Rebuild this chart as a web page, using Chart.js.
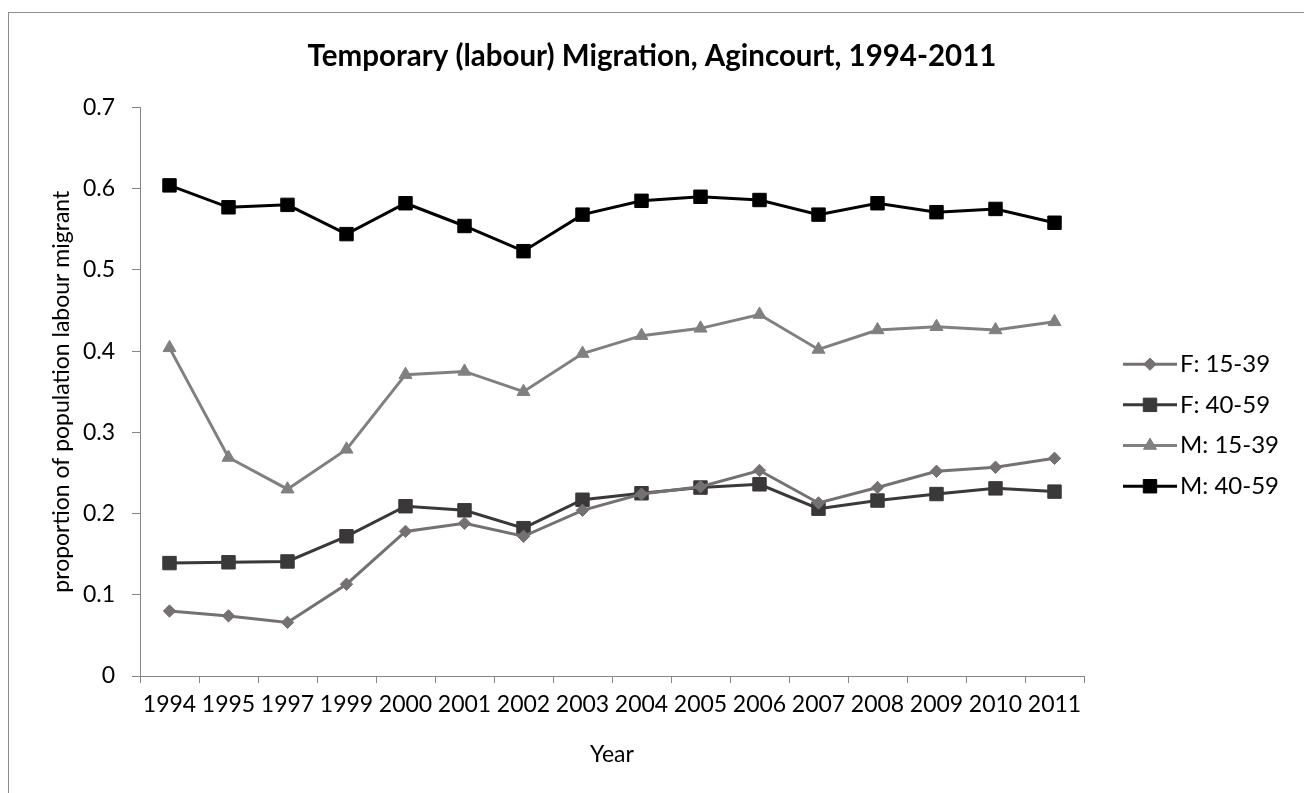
<!DOCTYPE html>
<html>
<head>
<meta charset="utf-8">
<script src="https://cdn.jsdelivr.net/npm/chart.js@4.4.1/dist/chart.umd.min.js"></script>
<style>
  html, body { margin: 0; padding: 0; background: #fff; }
  #wrap { position: relative; width: 1304px; height: 793px; overflow: hidden; }
  #frame {
    position: absolute; left: 8px; top: 12px; right: -10px; bottom: -10px;
    border-top: 1px solid #8c8c8c; border-left: 1px solid #8c8c8c;
    pointer-events: none;
  }
</style>
</head>
<body>
<div id="wrap">
  <canvas id="chart" width="1304" height="793"></canvas>
  <div id="frame"></div>
</div>
<script>
// chart data
const years = ['1994', '1995', '1997', '1999', '2000', '2001', '2002', '2003',
  '2004', '2005', '2006', '2007', '2008', '2009', '2010', '2011'];

const female15to39 = [0.080, 0.074, 0.066, 0.113, 0.178, 0.188, 0.172, 0.204,
  0.224, 0.233, 0.253, 0.213, 0.232, 0.252, 0.257, 0.268];
const female40to59 = [0.139, 0.140, 0.141, 0.172, 0.209, 0.204, 0.182, 0.217,
  0.225, 0.232, 0.236, 0.206, 0.216, 0.224, 0.231, 0.227];
const male15to39 = [0.404, 0.269, 0.230, 0.279, 0.371, 0.375, 0.350, 0.397,
  0.419, 0.428, 0.445, 0.402, 0.426, 0.430, 0.426, 0.436];
const male40to59 = [0.604, 0.577, 0.580, 0.544, 0.582, 0.554, 0.523, 0.568,
  0.585, 0.590, 0.586, 0.568, 0.582, 0.571, 0.575, 0.558];

const yTicks = { min: 0, max: 0.7, step: 0.1 };

const FONT = 'Lato, Carlito, "Open Sans", sans-serif';
const AXIS_GREY = '#868686';

function series(label, data, color, style, radius) {
  return {
    label,
    data,
    borderColor: color,
    backgroundColor: color,
    borderWidth: 3,
    pointStyle: style,
    pointRadius: radius,
    pointHoverRadius: radius,
    pointBackgroundColor: color,
    pointBorderColor: color,
    pointBorderWidth: 1,
    tension: 0
  };
}

// Excel style legend: short line with the marker in the middle
const lineLegend = {
  id: 'lineLegend',
  afterDraw(chart) {
    const { ctx, chartArea } = chart;
    const x0 = chartArea.right + 39;
    const lineLen = 54;
    const rowGap = 40.7;
    const n = chart.data.datasets.length;
    const midY = (chartArea.top + chartArea.bottom) / 2 + 33.5;
    const startY = midY - rowGap * (n - 1) / 2;
    ctx.save();
    chart.data.datasets.forEach((ds, i) => {
      const y = startY + i * rowGap;
      ctx.strokeStyle = ds.borderColor;
      ctx.lineWidth = ds.borderWidth;
      ctx.beginPath();
      ctx.moveTo(x0, y);
      ctx.lineTo(x0 + lineLen, y);
      ctx.stroke();
      ctx.fillStyle = ds.pointBackgroundColor;
      ctx.strokeStyle = ds.pointBorderColor;
      ctx.lineWidth = 1;
      Chart.helpers.drawPoint(ctx, {
        pointStyle: ds.pointStyle,
        radius: ds.pointRadius,
        rotation: 0,
        borderWidth: 1
      }, x0 + lineLen / 2, y);
      ctx.fillStyle = '#000';
      ctx.font = '24px ' + FONT;
      ctx.textAlign = 'left';
      ctx.textBaseline = 'middle';
      ctx.fillText(ds.label, x0 + lineLen + 3, y);
    });
    ctx.restore();
  }
};

const ctx = document.getElementById('chart').getContext('2d');
new Chart(ctx, {
  type: 'line',
  data: {
    labels: years,
    datasets: [
      series('F: 15-39', female15to39, '#767171', 'rectRot', 6.2),
      series('F: 40-59', female40to59, '#3a3838', 'rect', 9.5),
      series('M: 15-39', male15to39, '#808080', 'triangle', 7.5),
      series('M: 40-59', male40to59, '#000000', 'rect', 9.5)
    ]
  },
  options: {
    responsive: false,
    animation: false,
    layout: { padding: { left: 0, right: 0, top: 0, bottom: 0 } },
    plugins: {
      legend: { display: false },
      tooltip: { enabled: false },
      title: {
        display: true,
        text: 'Temporary (labour) Migration, Agincourt, 1994-2011',
        color: '#000',
        font: { family: FONT, size: 29.5, weight: 'bold' },
        padding: { top: 39, bottom: 33 }
      }
    },
    scales: {
      x: {
        offset: true,
        grid: {
          offset: true,
          drawOnChartArea: false,
          tickLength: 7,
          tickColor: AXIS_GREY,
          tickWidth: 1
        },
        border: { display: true, color: AXIS_GREY, width: 1 },
        ticks: {
          color: '#000',
          font: { family: FONT, size: 23 },
          padding: 8,
          maxRotation: 0,
          autoSkip: false
        },
        title: {
          display: true,
          text: 'Year',
          color: '#000',
          font: { family: FONT, size: 23 },
          padding: { top: 0, bottom: 25 }
        },
        afterFit(scale) { scale.height = 117; }
      },
      y: {
        min: yTicks.min,
        max: yTicks.max,
        grid: {
          drawOnChartArea: false,
          tickLength: 8,
          tickColor: AXIS_GREY,
          tickWidth: 1
        },
        border: { display: true, color: AXIS_GREY, width: 1 },
        ticks: {
          stepSize: yTicks.step,
          color: '#000',
          font: { family: FONT, size: 23 },
          padding: 17
        },
        title: {
          display: true,
          text: 'proportion of population labour migrant',
          color: '#000',
          font: { family: FONT, size: 23 },
          padding: { top: 48, bottom: 0 }
        },
        afterFit(scale) { scale.width = 140; }
      },
      // empty right-hand axis, only reserves room for the legend
      legendSpace: {
        position: 'right',
        display: true,
        grid: { display: false },
        border: { display: false },
        ticks: { display: false },
        afterFit(scale) { scale.width = 220; }
      }
    }
  },
  plugins: [lineLegend]
});
</script>
</body>
</html>
